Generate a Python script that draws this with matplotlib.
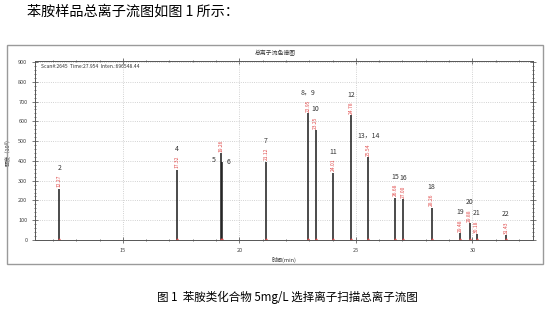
import numpy as np
import matplotlib.pyplot as plt
from matplotlib.patches import Rectangle
from matplotlib.ticker import MultipleLocator

plt.rcParams['font.family'] = ['Noto Sans CJK SC', 'DejaVu Sans']

# peak data
peak_rt = [12.27, 17.32, 19.21, 19.27, 21.14, 22.95, 23.27, 24.03, 24.79,
           25.54, 26.69, 27.02, 28.25, 29.48, 29.88, 30.18, 31.44]
peak_height = [260, 355, 440, 395, 395, 640, 555, 340, 630,
               420, 214, 207, 163, 35, 86, 30, 25]
peak_names = ["2", "4", "5", "6", "7", "8，9", "10", "11", "12",
              "13，14", "15", "16", "18", "19", "20", "21", "22"]
rt_labels = ["12.27", "17.32", "19.26", "", "21.12", "22.95", "23.25", "24.01", "24.78",
             "25.54", "26.68", "27.00", "28.26", "29.48", "29.88", "30.18", "31.43"]

fig = plt.figure(figsize=(5.51, 3.14), dpi=100)

# outer frame of the instrument printout
fig.patches.append(Rectangle((7/551, 1-264/314), 536/551, 219/314, transform=fig.transFigure,
                             fill=False, edgecolor='#9a9a9a', lw=1.0))
fig.text(27/551, 1-12/314, "苯胺样品总离子流图如图 1 所示：", fontsize=10.2, va='center', ha='left')
fig.text(275/551, 1-53/314, "总离子流色谱图", fontsize=4.2, va='center', ha='center', color='#333333')
fig.text(287/551, 1-297/314, "图 1  苯胺类化合物 5mg/L 选择离子扫描总离子流图", fontsize=8.3,
         va='center', ha='center')

ax = fig.add_axes([35/551, 1-240/314, 498/551, 179/314])
ax.set_xlim(11.23, 32.6)
ax.set_ylim(0, 905)

ax.vlines(peak_rt, 0, peak_height, color='#1a1a1a', lw=1.1)
ax.plot(peak_rt, np.zeros(len(peak_rt)), linestyle='none', marker='^', ms=2.2,
        color='#e05050')

for rt, h, name, lab in zip(peak_rt, peak_height, peak_names, rt_labels):
    if lab:
        ax.annotate(lab, (rt, h), xytext=(0, 1), textcoords='offset points', rotation=90,
                    ha='center', va='bottom', fontsize=3.6, color='#e04848')
    if name == "5":
        ax.annotate(name, (rt, h), xytext=(-5, -5), textcoords='offset points',
                    ha='center', va='center', fontsize=5, color='#333333')
    elif name == "6":
        ax.annotate(name, (rt, h), xytext=(4.5, 0), textcoords='offset points',
                    ha='center', va='center', fontsize=5, color='#333333')
    else:
        ax.annotate(name, (rt, h), xytext=(0, 15), textcoords='offset points',
                    ha='center', va='center', fontsize=5, color='#333333')

ax.text(0.012, 0.985, "Scan#:2645  Time:27.954  Inten.:696548.44", transform=ax.transAxes,
        fontsize=3.6, va='top', ha='left', color='#333333')

ax.xaxis.set_major_locator(MultipleLocator(5))
ax.xaxis.set_minor_locator(MultipleLocator(1))
ax.yaxis.set_major_locator(MultipleLocator(100))
ax.yaxis.set_minor_locator(MultipleLocator(20))
ax.tick_params(which='both', direction='inout', top=True, right=True, labelsize=4,
               colors='#444444', width=0.5)
ax.tick_params(which='major', length=4)
ax.tick_params(which='minor', length=2)
ax.grid(True, which='major', linestyle=':', color='#c4c4c4', lw=0.6)
for s in ax.spines.values():
    s.set_color('#555555')
    s.set_linewidth(0.7)

ax.set_xlabel("时间(min)", fontsize=4, labelpad=3, color='#333333')
ax.set_ylabel("强度（10⁴）", fontsize=4, labelpad=6, color='#333333')

fig.savefig("out.png", dpi=100)
